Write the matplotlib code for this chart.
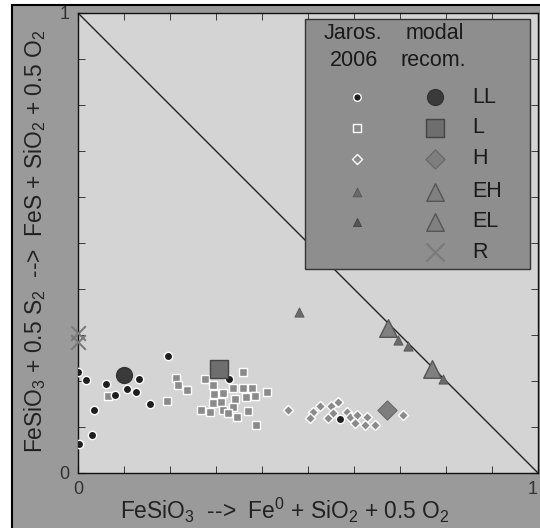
import matplotlib
matplotlib.use('Agg')
import matplotlib.pyplot as plt
from matplotlib.patches import Rectangle
from matplotlib.ticker import MultipleLocator, FixedLocator

plt.rcParams['font.family'] = ['Liberation Sans', 'DejaVu Sans']
plt.rcParams['mathtext.fontset'] = 'custom'
plt.rcParams['mathtext.rm'] = 'Liberation Sans'
plt.rcParams['mathtext.default'] = 'regular'

# Jaros 2006 compositions
ll_x = [0.0, 0.017, 0.060, 0.081, 0.106, 0.126, 0.133, 0.157, 0.034, 0.031, 0.003,
        0.196, 0.329, 0.570]
ll_y = [0.220, 0.202, 0.193, 0.170, 0.182, 0.176, 0.204, 0.150, 0.138, 0.083, 0.062,
        0.255, 0.204, 0.117]

l_x = [0.065, 0.213, 0.218, 0.236, 0.194, 0.276, 0.293, 0.296, 0.315, 0.293, 0.310,
       0.267, 0.288, 0.316, 0.338, 0.358, 0.358, 0.378, 0.341, 0.365, 0.385, 0.410,
       0.336, 0.370, 0.345, 0.387, 0.327]
l_y = [0.167, 0.207, 0.191, 0.180, 0.157, 0.204, 0.191, 0.172, 0.173, 0.153, 0.155,
       0.138, 0.133, 0.137, 0.184, 0.219, 0.184, 0.184, 0.160, 0.166, 0.167, 0.175,
       0.144, 0.135, 0.121, 0.104, 0.130]

h_x = [0.457, 0.510, 0.504, 0.526, 0.551, 0.566, 0.544, 0.555, 0.584, 0.591, 0.607,
       0.602, 0.628, 0.624, 0.646, 0.707]
h_y = [0.138, 0.132, 0.119, 0.146, 0.146, 0.155, 0.119, 0.130, 0.133, 0.122, 0.126,
       0.108, 0.121, 0.104, 0.104, 0.126]

eh_x = [0.480, 0.696, 0.718]
eh_y = [0.351, 0.289, 0.276]
el_x = [0.794]
el_y = [0.204]

# modal recomputed
m_ll = (0.100, 0.213)
m_l = (0.307, 0.225)
m_h = (0.671, 0.137)
m_eh = (0.675, 0.315)
m_el = (0.769, 0.225)
m_r_x = [0.0, 0.0]
m_r_y = [0.305, 0.285]

classes = ['LL', 'L', 'H', 'EH', 'EL', 'R']

fig = plt.figure(figsize=(5.4, 5.28), dpi=100)
fig.patch.set_facecolor('white')
fig.add_artist(Rectangle((0.022, -0.1), 1.2, 1.0905, transform=fig.transFigure,
                         facecolor='#9a9a9a', edgecolor='black', lw=1.5, zorder=0))

ax = fig.add_axes([0.1444, 0.1042, 0.8519, 0.8712])
ax.set_facecolor('#d4d4d4')
ax.set_xlim(0, 1)
ax.set_ylim(0, 1)

ax.plot([0, 1], [1, 0], color='#222222', lw=1.0, zorder=2)

small = dict(s=36, linewidths=1.0, edgecolors='white', zorder=4)
ax.scatter(l_x, l_y, marker='s', c='#8a8a8a', **small)
ax.scatter(h_x, h_y, marker='D', c='#8a8a8a', s=26, linewidths=1.0, edgecolors='white', zorder=4)
ax.scatter(ll_x, ll_y, marker='o', c='#1e1e1e', **small)
ax.scatter(eh_x, eh_y, marker='^', c='#6a6a6a', s=44, edgecolors='#555555', linewidths=0.6, zorder=4)
ax.scatter(el_x, el_y, marker='^', c='#6a6a6a', s=44, edgecolors='#555555', linewidths=0.6, zorder=4)

ax.scatter(*m_ll, marker='o', c='#3a3a3a', s=130, edgecolors='#333333', zorder=5)
ax.scatter(*m_l, marker='s', c='#6e6e6e', s=170, edgecolors='#444444', linewidths=1.0, zorder=5)
ax.scatter(*m_h, marker='D', c='#7e7e7e', s=95, edgecolors='#666666', linewidths=0.8, zorder=5)
ax.scatter(*m_eh, marker='^', c='#808080', s=160, edgecolors='#555555', linewidths=1.0, zorder=5)
ax.scatter(*m_el, marker='^', c='#808080', s=160, edgecolors='#555555', linewidths=1.0, zorder=5)
ax.scatter(m_r_x, m_r_y, marker='x', c='#7a7a7a', s=110, linewidths=1.5, zorder=5, clip_on=False)

# hand-made legend box
ax.add_patch(Rectangle((0.493, 0.443), 0.49, 0.545, transform=ax.transAxes,
                       facecolor='#8e8e8e', edgecolor='#333333', lw=1.0, zorder=6))
txt = dict(transform=ax.transAxes, ha='center', va='center', fontsize=15.5,
           color='#1a1a1a', zorder=7)
ax.text(0.597, 0.955, 'Jaros.', **txt)
ax.text(0.600, 0.897, '2006', **txt)
ax.text(0.775, 0.955, 'modal', **txt)
ax.text(0.772, 0.897, 'recom.', **txt)

rows_y = [0.817, 0.750, 0.683, 0.611, 0.546, 0.480]
col_small = 0.607
col_big = 0.776
kw = dict(transform=ax.transAxes, zorder=7, clip_on=False)
ax.scatter(col_small, rows_y[0], marker='o', c='#1e1e1e', s=30, edgecolors='white', linewidths=1.0, **kw)
ax.scatter(col_small, rows_y[1], marker='s', c='#8a8a8a', s=34, edgecolors='white', linewidths=1.0, **kw)
ax.scatter(col_small, rows_y[2], marker='D', c='#8a8a8a', s=26, edgecolors='white', linewidths=1.0, **kw)
ax.scatter(col_small, rows_y[3], marker='^', c='#6a6a6a', s=40, edgecolors='#555555', linewidths=0.6, **kw)
ax.scatter(col_small, rows_y[4], marker='^', c='#555555', s=34, edgecolors='#444444', linewidths=0.6, **kw)
ax.scatter(col_big, rows_y[0], marker='o', c='#3a3a3a', s=130, edgecolors='#333333', **kw)
ax.scatter(col_big, rows_y[1], marker='s', c='#6e6e6e', s=170, edgecolors='#444444', linewidths=1.0, **kw)
ax.scatter(col_big, rows_y[2], marker='D', c='#7e7e7e', s=95, edgecolors='#666666', linewidths=0.8, **kw)
ax.scatter(col_big, rows_y[3], marker='^', c='#808080', s=160, edgecolors='#555555', linewidths=1.0, **kw)
ax.scatter(col_big, rows_y[4], marker='^', c='#808080', s=160, edgecolors='#555555', linewidths=1.0, **kw)
ax.scatter(col_big, rows_y[5], marker='x', c='#7a7a7a', s=170, linewidths=1.5, **kw)
for yy, name in zip(rows_y, classes):
    ax.text(0.858, yy, name, transform=ax.transAxes, ha='left', va='center',
            fontsize=15.5, color='#1a1a1a', zorder=7)

# ticks: only 0 and 1 labelled, minor every 0.1, all inward
for axis in (ax.xaxis, ax.yaxis):
    axis.set_major_locator(FixedLocator([0, 1]))
    axis.set_minor_locator(MultipleLocator(0.1))
ax.tick_params(which='both', direction='in', top=True, right=True, color='#222222')
ax.tick_params(which='major', length=6, labelsize=13, labelcolor='#333333', pad=6)
ax.tick_params(which='minor', length=5)
ax.get_xticklabels()[-1].set_horizontalalignment('right')
for sp in ax.spines.values():
    sp.set_color('#111111')
    sp.set_linewidth(1.0)

ax.set_xlabel('FeSiO$_3$  -->  Fe$^0$ + SiO$_2$ + 0.5 O$_2$', fontsize=16.4, color='#222222')
ax.set_ylabel('FeSiO$_3$ + 0.5 S$_2$  -->  FeS + SiO$_2$ + 0.5 O$_2$', fontsize=16.4, color='#222222')
ax.xaxis.set_label_coords(0.45, -0.05)
ax.yaxis.set_label_coords(-0.066, 0.505)

fig.savefig('out.png', dpi=100)
